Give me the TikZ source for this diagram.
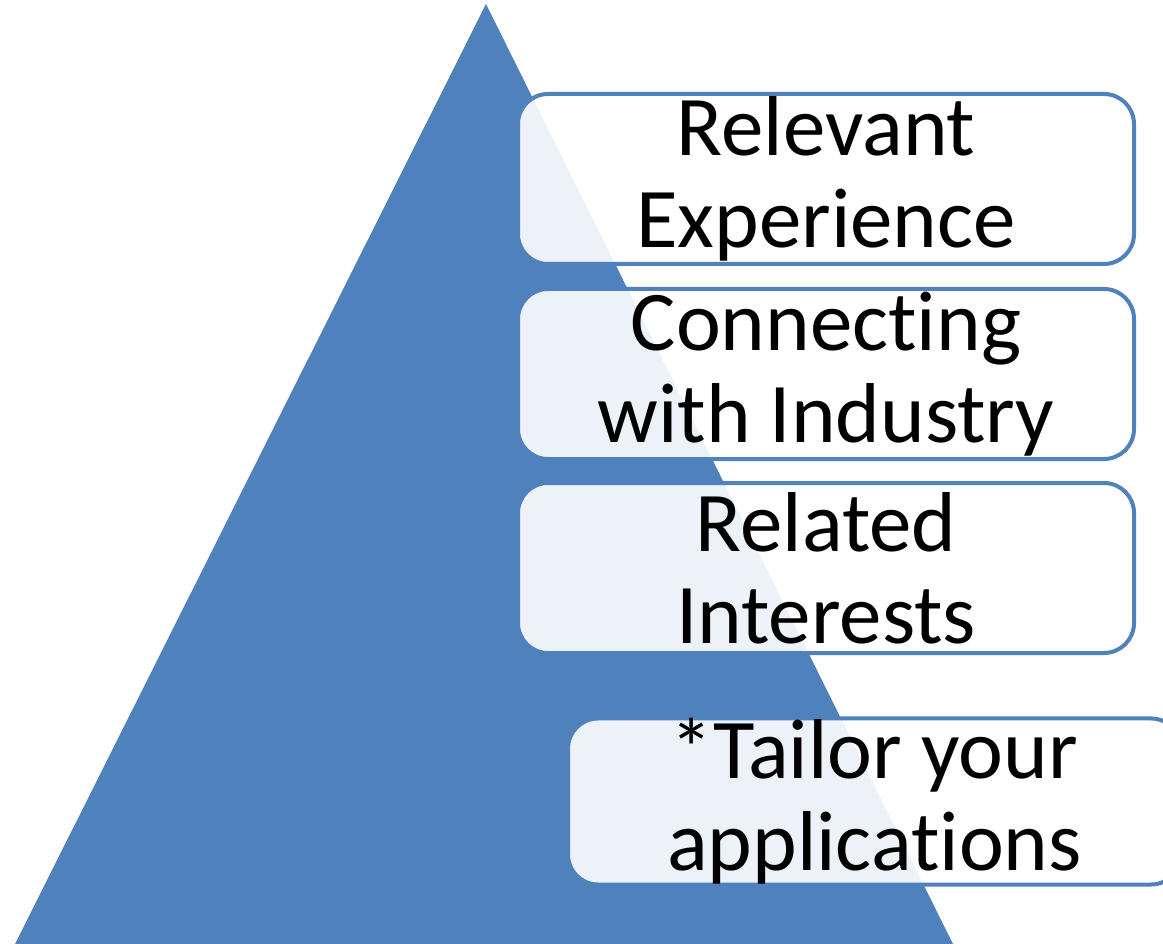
\documentclass[tikz,border=0pt]{standalone}
\usepackage{fontspec}
\setmainfont{Carlito}[Ligatures={NoCommon}]
\usetikzlibrary{positioning}
\definecolor{pyrblue}{RGB}{79,129,189}
\begin{document}
\begin{tikzpicture}[x=1pt,y=-1pt,
    level/.style={draw=pyrblue, line width=4pt, rounded corners=30pt,
      fill=white, fill opacity=0.9, text opacity=1, text=black,
      minimum width=616pt, minimum height=170pt, inner sep=0pt,
      align=center, font=\fontsize{85}{92}\selectfont}]
        \useasboundingbox (0,0) rectangle (1163,944);
        \coordinate (apex) at (486,4);
        \coordinate (baseleft) at (15,944);
        \coordinate (baseright) at (953,944);
        \fill[pyrblue] (apex) -- (baseright) -- (baseleft) -- cycle;

        \node[level] (relexp) at (826,179) {Relevant\\Experience};
        \node[level] (conind) at (826,374) {Connecting\\with Industry};
        \node[level] (relint) at (826,568) {Related\\Interests};
        \node[level, minimum width=613pt, minimum height=153pt] (tailor) at (874.5,801.5) {*Tailor your\\applications};
    \end{tikzpicture}
\end{document}
